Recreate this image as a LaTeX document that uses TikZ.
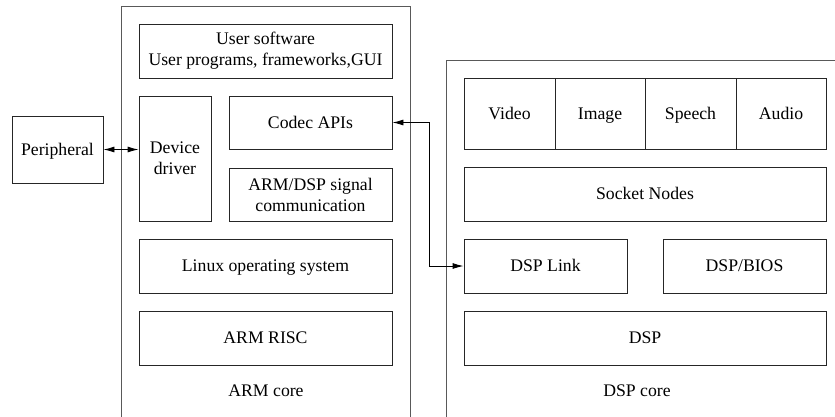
\documentclass[tikz,border=0pt]{standalone}
\usepackage{fontspec}
\setmainfont{Liberation Serif}
\usetikzlibrary{arrows.meta}
\begin{document}
\begin{tikzpicture}[x=1pt,y=-1pt,
  box/.style={draw=black!85,line width=0.9pt,rectangle,inner sep=0pt,align=center,
    font=\fontsize{17.7}{21}\selectfont},
  one/.style={text height=11.7pt,text depth=0pt},
  lbl/.style={inner sep=0pt,text height=11.7pt,text depth=0pt,font=\fontsize{17.7}{21}\selectfont},
  core/.style={draw=black!65,line width=0.9pt},
  conn/.style={draw=black,line width=0.9pt,{Latex[length=11pt,width=6pt]}-{Latex[length=11pt,width=6pt]}}]
\useasboundingbox (0,0) rectangle (835,416);
% outer cores
\draw[core] (121,417) -- (121,6) -- (410,6) -- (410,417);
\draw[core] (446,417) -- (446,60) -- (836,60);
% ARM side
\node[box,minimum width=253pt,minimum height=54pt] (usr) at (265.5,51) {User software\\User programs, frameworks,GUI};
\node[box,minimum width=72pt,minimum height=125pt] (drv) at (175,158.5) {Device\\driver};
\node[box,one,minimum width=163pt,minimum height=53pt] (codec) at (310.5,122.5) {Codec APIs};
\node[box,minimum width=163pt,minimum height=53pt] (sig) at (310.5,194.5) {ARM/DSP signal\\communication};
\node[box,one,minimum width=253pt,minimum height=54pt] (linux) at (265.5,266) {Linux operating system};
\node[box,one,minimum width=253pt,minimum height=54pt] (risc) at (265.5,338) {ARM RISC};
\node[lbl] (armlbl) at (266,391) {ARM core};
\node[box,one,minimum width=91pt,minimum height=67pt] (periph) at (57.5,149.5) {Peripheral};
% DSP side
\node[box,one,minimum width=91pt,minimum height=71pt] (video) at (509.5,113.5) {Video};
\node[box,one,minimum width=90pt,minimum height=71pt] (image) at (600,113.5) {Image};
\node[box,one,minimum width=91pt,minimum height=71pt] (speech) at (690.5,113.5) {Speech};
\node[box,one,minimum width=90pt,minimum height=71pt] (audio) at (781,113.5) {Audio};
\node[box,one,minimum width=362pt,minimum height=54pt] (socket) at (645,194) {Socket Nodes};
\node[box,one,minimum width=163pt,minimum height=54pt] (link) at (545.5,266) {DSP Link};
\node[box,one,minimum width=163pt,minimum height=54pt] (bios) at (744.5,266) {DSP/BIOS};
\node[box,one,minimum width=362pt,minimum height=54pt] (dsp) at (645,338) {DSP};
\node[lbl] (dsplbl) at (637,391) {DSP core};
% connectors
\coordinate (turn) at (429,200);
\draw[conn] (periph.east) -- (periph.east -| drv.west);
\draw[conn] (codec.east) -- (codec.east -| turn) -- (turn |- link.west) -- (link.west);
\end{tikzpicture}
\end{document}
